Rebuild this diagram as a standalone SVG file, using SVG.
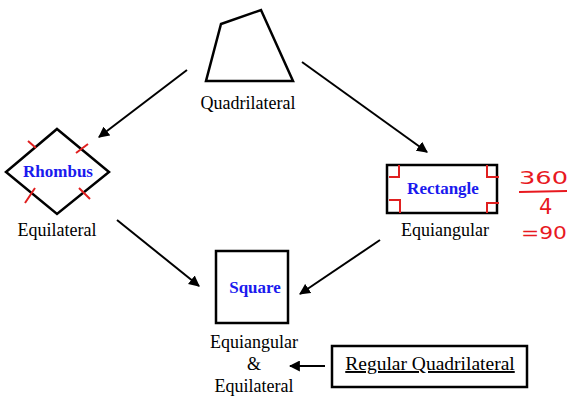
<svg xmlns="http://www.w3.org/2000/svg" width="569" height="396" viewBox="0 0 569 396">
<defs>
<style>
.shape{fill:none;stroke:#000;stroke-width:2.5;stroke-linejoin:miter}
.lbl{font-family:"Liberation Serif","DejaVu Serif",serif;font-size:18px;fill:#000;text-anchor:middle}
.name{font-family:"Liberation Serif","DejaVu Serif",serif;font-size:17px;font-weight:bold;fill:#1a1aee;text-anchor:middle}
.tick{fill:none;stroke:#e02020;stroke-width:2}
.conn{fill:none;stroke:#000;stroke-width:2;marker-end:url(#ah)}
.hand{font-family:"DejaVu Sans",sans-serif;fill:#e8191f}
</style>
<marker id="ah" viewBox="0 0 10 10" refX="9" refY="5" markerWidth="5.5" markerHeight="5.5" orient="auto" markerUnits="strokeWidth">
<path d="M0,0 L10,5 L0,10 z" fill="#000"/>
</marker>
</defs>
<rect width="569" height="396" fill="#fff"/>
<g id="quadrilateral">
<polygon class="shape" points="221,24 261,10 293,81 206,81"/>
<text class="lbl" x="248" y="109">Quadrilateral</text>
</g>
<g id="rhombus">
<polygon class="shape" points="57,129 109,172 57,214 6,172"/>
<path class="tick" d="M28,141 L36,148 M76,153 L88,144 M25,203 L35,188 M79,188 L90,199"/>
<text class="name" x="58" y="177">Rhombus</text>
<text class="lbl" x="57" y="236">Equilateral</text>
</g>
<g id="rectangle">
<rect class="shape" x="387" y="165" width="110" height="48"/>
<path class="tick" d="M399,165 L399,177 L389,177 M487,165 L487,177 L499,177 M389,200 L400,200 L400,213 M487,213 L487,203 L499,203"/>
<text class="name" x="443" y="194">Rectangle</text>
<text class="lbl" x="445" y="236">Equiangular</text>
</g>
<g id="note">
<text class="hand" x="519" y="184" font-size="17" textLength="49" lengthAdjust="spacingAndGlyphs">360</text>
<path d="M519,192 L567,191" stroke="#e8191f" stroke-width="1.8" fill="none"/>
<text class="hand" x="539" y="214" font-size="21">4</text>
<text class="hand" x="521" y="239" font-size="18" textLength="46" lengthAdjust="spacingAndGlyphs">=90</text>
</g>
<g id="square">
<rect class="shape" x="216" y="251" width="72" height="72"/>
<text class="name" x="255" y="293">Square</text>
<text class="lbl" x="254" y="348">Equiangular</text>
<text class="lbl" x="254" y="370">&amp;</text>
<text class="lbl" x="254" y="392">Equilateral</text>
</g>
<g id="regular">
<rect class="shape" x="332" y="346" width="195" height="41"/>
<text x="430" y="370" font-family="Liberation Serif,serif" font-size="19.5" text-anchor="middle" text-decoration="underline">Regular Quadrilateral</text>
</g>
<g id="connectors">
<line class="conn" x1="187" y1="70" x2="99" y2="137"/>
<line class="conn" x1="302" y1="62" x2="427" y2="152"/>
<line class="conn" x1="117" y1="220" x2="199" y2="286"/>
<line class="conn" x1="380" y1="240" x2="300" y2="294"/>
<line class="conn" x1="325" y1="366" x2="290" y2="366"/>
</g>
</svg>
